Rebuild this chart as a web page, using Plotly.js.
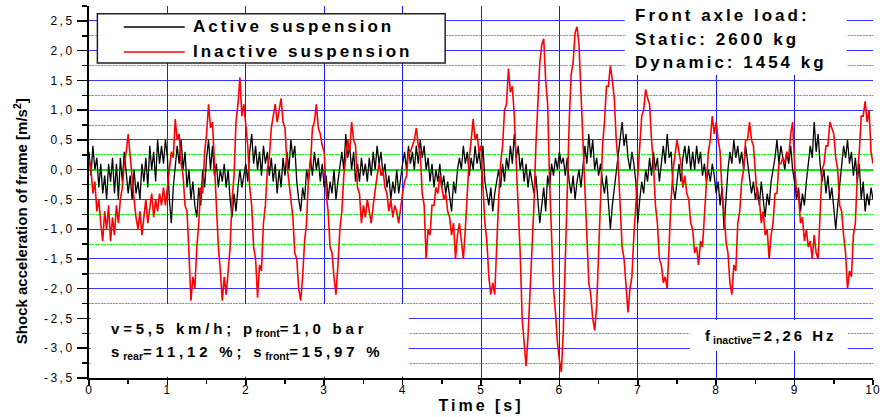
<!DOCTYPE html>
<html>
<head>
<meta charset="utf-8">
<script src="https://cdn.plot.ly/plotly-3.0.1.min.js"></script>
<style>
html,body{margin:0;padding:0;background:#fff;}
#chart{width:884px;height:417px;}
.annotation-text{letter-spacing:3px;}
g.annotation[data-index="6"] .annotation-text, g.annotation[data-index="7"] .annotation-text{letter-spacing:3.8px;}
.annotation-text tspan[style*="70%"]{letter-spacing:0px !important;}
g.annotation[data-index="0"] .annotation-text{letter-spacing:0px;}
.xtitle{letter-spacing:3px;}
.ytick text{letter-spacing:2.5px;}
.xtick text{letter-spacing:1px;}
</style>
</head>
<body>
<div id="chart"></div>
<script>
const FONT = 'Arial, "Liberation Sans", Helvetica, sans-serif';

// sampling interval of both recorded signals [s]
const timeStep = 0.025;

const seriesNames = ['Active suspension', 'Inactive suspension'];

// Active suspension – shock acceleration of frame [m/s^2]
const activeAccel = [
 0.3, -0.1, 0.4, 0.0, 0.2,
 -0.3, 0.1, -0.4, -0.1, -0.5, 0.1, -0.2, 0.2,
 -0.4, 0.1, -0.5, 0.2, -0.2, 0.3, -0.1, -0.4,
 -0.1, -0.5, 0.0, -0.4, -0.2, -0.5, 0.1, -0.2,
 0.2, -0.3, 0.4, 0.0, 0.3, -0.2, 0.5, 0.1,
 0.4, 0.1, 0.5, 0.2, -0.5, -0.9, -0.3, 0.0,
 0.4, 0.1, 0.5, 0.0, 0.3, -0.3, 0.0, -0.5,
 -0.2, -0.6, -0.8, -0.3, -0.6, 0.0, -0.3, 0.2,
 0.5, 0.0, 0.4, -0.1, 0.1, -0.3, 0.0, -0.2,
 0.1, -0.3, 0.0, -0.5, -0.8, -0.4, -0.7, -0.3,
 0.0, -0.3, -0.1, 0.1, -0.2, 0.3, 0.6, 0.1,
 0.4, 0.0, 0.3, -0.1, 0.4, 0.1, 0.3, -0.1,
 0.2, -0.2, 0.1, -0.4, 0.0, -0.3, 0.2, -0.1,
 0.3, 0.0, 0.5, 0.2, 0.4, -0.2, -0.5, -0.7,
 -0.3, -0.5, 0.0, -0.2, 0.2, -0.1, 0.3, 0.0,
 0.2, -0.2, 0.1, -0.3, -0.1, -0.5, -0.2, -0.4,
 0.0, -0.5, -0.2, 0.1, 0.3, 0.0, 0.6, 0.2,
 0.4, 0.0, 0.3, -0.2, 0.1, -0.2, 0.2, -0.1,
 0.1, -0.2, 0.2, -0.1, 0.3, 0.0, 0.4, 0.1,
 0.3, -0.1, 0.1, -0.3, -0.1, -0.5, -0.2, -0.4,
 0.0, -0.4, -0.1, 0.1, 0.3, 0.0, 0.4, 0.1,
 0.3, 0.0, 0.4, 0.1, 0.5, 0.2, 0.4, 0.0,
 0.2, -0.2, 0.1, -0.3, 0.0, -0.2, 0.1, -0.3,
 -0.1, -0.4, -0.2, -0.5, -0.7, -0.2, -0.4, 0.0,
 0.2, 0.0, 0.4, 0.1, 0.3, -0.1, 0.2, 0.0,
 0.4, 0.1, 0.3, 0.0, 0.4, -0.2, -0.4, -0.6,
 -0.3, -0.7, -0.4, -0.2, 0.0, -0.3, 0.1, -0.2,
 0.2, 0.0, 0.4, 0.1, 0.6, 0.2, 0.4, 0.0,
 0.2, -0.2, 0.1, -0.3, 0.0, -0.2, -0.4, -0.1,
 -0.5, -0.9, -0.6, -0.3, -0.7, -0.1, -0.3, 0.1,
 -0.1, 0.2, 0.0, 0.3, 0.1, 0.2, -0.1, 0.2,
 -0.2, -0.4, -0.1, -0.5, -0.2, 0.0, -0.3, 0.1,
 0.4, 0.1, 0.6, 0.2, 0.5, 0.0, 0.2, -0.1,
 0.1, -0.2, -0.4, -0.1, -0.6, -1.0, -0.6, -0.3,
 0.0, 0.3, 0.5, 0.8, 0.4, 0.6, 0.2, 0.0,
 0.3, 0.1, -0.2, -0.9, -0.5, -0.2, -0.4, 0.0,
 -0.2, 0.2, -0.1, 0.3, 0.0, 0.2, -0.2, 0.1,
 0.4, 0.1, 0.6, 0.2, 0.3, -0.3, -0.5, -0.2,
 0.1, -0.2, 0.2, 0.4, 0.1, 0.4, 0.0, 0.3,
 0.0, 0.4, 0.1, 0.3, -0.1, 0.1, -0.2, 0.0,
 -0.2, 0.1, -0.1, -0.4, -0.2, -0.6, -0.3, -1.0,
 -0.4, 0.0, 0.3, 0.1, 0.5, 0.2, 0.4, 0.1,
 0.3, 0.0, 0.4, 0.1, -0.2, -0.4, -0.2, -0.5,
 -0.3, -0.6, -0.2, -0.5, -0.8, -0.4, -0.6, -0.2,
 0.0, 0.2, 0.5, 0.1, 0.4, 0.2, 0.0, 0.3,
 0.1, 0.4, 0.0, -0.2, -0.5, -0.3, -0.7, -0.4,
 -0.6, -0.2, 0.1, 0.4, 0.2, 0.8, 0.3, 0.6,
 0.1, -0.2, 0.0, -0.4, -0.1, -0.5, -0.3, -0.6,
 -1.0, -0.6, -0.3, 0.1, 0.4, 0.2, 0.5, 0.1,
 0.3, -0.1, 0.2, -0.2, 0.1, -0.5, -0.2, -0.7,
 -0.4, -0.6, -0.3, -0.5
];

// Inactive suspension – shock acceleration of frame [m/s^2]
const inactiveAccel = [
 0.2, 0.0, -0.4, -0.2, -0.7, -0.5, -0.9, -1.2, -0.7, -1.0, -0.6, -1.2, -0.8, -1.1, -0.6, -0.9, -0.5, -0.3, 0.1, 0.3,
 0.6, 0.2, -0.1, -0.5, -0.8, -1.0, -0.7, -1.1, -0.8, -0.5, -0.9, -0.6, -0.4, -0.8, -0.5, -0.7, -0.4, -0.6, -0.3, -0.6,
 -0.3, -0.1, 0.3, 0.2, 0.85, 0.5, 0.6, 0.1, -0.1, -0.6, -0.7, -1.4, -2.2, -1.8, -2.0, -1.3, -0.9, -0.3, -0.4, 0.3,
 0.6, 1.1, 0.7, 0.8, 0.1, -0.6, -1.3, -1.7, -2.2, -1.8, -2.1, -1.7, -1.3, -0.5, -0.1, 0.8, 1.1, 1.55, 0.9, 1.1,
 0.7, 0.4, -0.3, -0.6, -1.3, -1.5, -2.15, -1.6, -1.7, -0.9, -0.6, 0.0, 0.2, 0.7, 0.9, 1.1, 0.8, 1.0, 1.2, 0.8,
 0.7, 0.1, -0.2, -0.5, -0.8, -1.4, -1.5, -2.0, -2.2, -1.8, -1.2, -0.9, -0.1, 0.1, 0.7, 0.8, 1.1, 0.7, 0.6, 0.4,
 0.3, -0.4, -0.7, -1.3, -1.4, -1.8, -2.1, -1.6, -1.0, -0.7, -0.1, 0.2, 0.5, 0.3, 0.8, 0.5, 0.4, -0.3, -0.4, -0.9,
 -0.6, -0.8, -0.5, -0.7, -0.9, -0.6, -0.3, -0.1, 0.1, -0.1, 0.0, -0.3, -0.4, -0.7, -0.5, -0.8, -0.6, -0.7, -0.9, -0.6,
 -0.4, -0.2, -0.1, 0.3, 0.3, 0.4, 0.5, 0.7, 0.4, 0.3, -0.4, -0.6, -1.5, -1.0, -1.1, -0.6, -0.6, -0.3, -0.4, -0.1,
 -0.3, -0.5, -0.4, -0.7, -0.8, -1.1, -0.9, -1.5, -1.1, -0.9, -1.2, -1.5, -1.0, -0.4, 0.2, 0.5, 0.85, 0.5, 0.6, 0.3,
 0.4, -0.3, -0.9, -1.2, -1.8, -2.1, -1.9, -2.1, -1.2, -0.5, 0.1, 0.4, 1.0, 1.1, 1.7, 1.3, 1.4, 0.9, 0.1, -0.6,
 -1.4, -2.5, -2.9, -3.3, -2.8, -2.1, -1.3, -0.6, 0.4, 1.0, 1.8, 2.1, 2.2, 1.5, 1.1, -0.2, -1.1, -2.0, -2.4, -2.9,
 -3.2, -3.4, -2.7, -1.4, -0.2, 0.8, 1.6, 1.8, 2.3, 2.4, 2.1, 1.3, 0.4, -0.6, -1.2, -1.9, -2.1, -2.5, -2.7, -2.3,
 -1.4, -0.4, 0.4, 0.8, 1.4, 1.4, 1.75, 1.5, 1.2, 0.5, 0.1, -0.6, -1.3, -1.5, -2.0, -2.4, -2.0, -1.8, -1.1, -0.6,
 0.0, 0.4, 0.9, 1.0, 1.35, 1.2, 1.1, 0.5, 0.1, -0.6, -0.9, -1.5, -1.6, -1.9, -1.8, -2.0, -1.2, -0.5, 0.0, 0.3,
 0.5, 0.3, 0.1, -0.3, -0.1, -0.4, -0.5, -0.9, -1.0, -1.4, -1.3, -1.6, -1.2, -1.3, -0.7, -0.3, 0.3, 0.5, 0.9, 0.6,
 0.8, 0.5, 0.3, -0.4, -0.7, -1.2, -1.4, -1.9, -2.1, -1.6, -1.7, -0.9, -0.7, -0.2, 0.0, 0.5, 0.5, 0.8, 0.5, 0.4,
 -0.1, -0.5, -0.5, -0.9, -0.7, -1.1, -1.0, -1.5, -1.1, -0.9, -0.4, -0.4, 0.1, 0.1, 0.2, 0.1, 0.3, 0.2, 0.6, 0.8,
 0.1, -0.4, -0.4, -0.9, -0.8, -1.2, -1.0, -1.3, -1.2, -1.5, -1.1, -1.4, -1.5, -0.7, 0.0, 0.1, 0.4, 0.4, 0.8, 0.7,
 0.6, 0.2, 0.0, -0.6, -0.7, -1.1, -1.4, -2.0, -1.7, -1.8, -1.1, -0.9, -0.1, 0.3, 0.9, 0.9, 1.15, 0.8, 1.0, 0.3,
 0.1
];

const xTickVals = [0, 1, 2, 3, 4, 5, 6, 7, 8, 9, 10];
const xTickText = ['0', '1', '2', '3', '4', '5', '6', '7', '8', '9', '10'];
const yTickVals = [-3.5, -3.0, -2.5, -2.0, -1.5, -1.0, -0.5, 0.0, 0.5, 1.0, 1.5, 2.0, 2.5];
const yTickText = ['-3,5', '-3,0', '-2,5', '-2,0', '-1,5', '-1,0', '-0,5', '0,0', '0,5', '1,0', '1,5', '2,0', '2,5'];

const yTitle = 'Shock acceleration of frame [m/s<sup>2</sup>]';
const xTitle = 'Time [s]';
const loadLines = ['Front axle load:', 'Static: 2600 kg', 'Dynamic: 1454 kg'];
const condLines = ['v=5,5 km/h; p<sub>front</sub>=1,0 bar', 's<sub>rear</sub>=11,12 %; s<sub>front</sub>=15,97 %'];
const freqText = 'f<sub>inactive</sub>=2,26 Hz';

const timeActive = activeAccel.map((_, i) => +(i * timeStep).toFixed(3));
const timeInactive = inactiveAccel.map((_, i) => +(i * timeStep).toFixed(3));

const traces = [
  {x: timeActive, y: activeAccel, type: 'scatter', mode: 'lines', name: seriesNames[0],
   line: {color: '#000000', width: 1.3}, hoverinfo: 'skip'},
  {x: timeInactive, y: inactiveAccel, type: 'scatter', mode: 'lines', name: seriesNames[1],
   line: {color: '#ff0000', width: 1.6}, hoverinfo: 'skip'}
];

const whiteBox = (x0, x1, y0, y1, border) => ({
  type: 'rect', xref: 'x', yref: 'y', x0, x1, y0, y1, layer: 'between',
  fillcolor: '#ffffff',
  line: border ? {color: '#222222', width: 1.5} : {width: 0}
});

const shapes = [
  whiteBox(0.107, 4.543, 1.794, 2.618, true),      // legend frame
  whiteBox(6.833, 9.665, 1.592, 2.75, false),      // axle load box
  whiteBox(0.02, 4.078, -3.48, -2.256, false),     // conditions box
  whiteBox(7.662, 9.677, -3.046, -2.525, false),   // frequency box
  {type: 'line', xref: 'x', yref: 'y', x0: 0.443, x1: 1.221, y0: 2.399, y1: 2.399, layer: 'between',
   line: {color: '#000000', width: 1.5}},
  {type: 'line', xref: 'x', yref: 'y', x0: 0.443, x1: 1.221, y0: 1.979, y1: 1.979, layer: 'between',
   line: {color: '#ff0000', width: 1.5}}
];

const txt = (text, x, y, size) => ({
  text, x, y, xref: 'x', yref: 'y', xanchor: 'left', yanchor: 'middle', showarrow: false,
  align: 'left', borderpad: 0, borderwidth: 0,
  font: {family: FONT, size, color: '#000', weight: 'bold'}
});

const annotations = [
  {text: yTitle, textangle: -90, xref: 'paper', x: -0.087, yref: 'y', y: -0.86,
   xanchor: 'center', yanchor: 'middle', showarrow: false, borderpad: 0, borderwidth: 0,
   font: {family: FONT, size: 15, color: '#000', weight: 'bold'}},
  txt(seriesNames[0], 1.323, 2.399, 17),
  txt(seriesNames[1], 1.323, 1.979, 17),
  txt(loadLines[0], 6.961, 2.584, 17),
  txt(loadLines[1], 6.961, 2.181, 17),
  txt(loadLines[2], 6.961, 1.794, 17),
  txt(condLines[0], 0.277, -2.69, 15),
  txt(condLines[1], 0.277, -3.065, 15),
  txt(freqText, 7.853, -2.81, 15)
];

const layout = {
  width: 884, height: 417,
  margin: {l: 89, r: 11, t: 6, b: 39, pad: 0},
  paper_bgcolor: '#ffffff', plot_bgcolor: '#ffffff',
  showlegend: false,
  font: {family: FONT, color: '#000'},
  xaxis: {
    range: [0, 10], tickmode: 'array', tickvals: xTickVals, ticktext: xTickText,
    ticks: 'outside', ticklen: 5, tickwidth: 1.5, tickcolor: '#000', ticklabelstandoff: -5,
    showline: true, linecolor: '#000', linewidth: 2,
    showgrid: true, gridcolor: '#1a1aff', gridwidth: 1, zeroline: false,
    minor: {tickmode: 'linear', tick0: 0, dtick: 0.5, ticks: 'outside', ticklen: 4,
            tickwidth: 1.5, tickcolor: '#000', showgrid: false},
    tickfont: {family: FONT, size: 12, color: '#000'},
    title: {text: xTitle, font: {family: FONT, size: 16, color: '#000', weight: 'bold'}, standoff: 3},
    fixedrange: true
  },
  yaxis: {
    range: [-3.5, 2.75], tickmode: 'array', tickvals: yTickVals, ticktext: yTickText,
    ticks: 'outside', ticklen: 10, tickwidth: 1.5, tickcolor: '#000',
    showline: true, linecolor: '#000', linewidth: 2,
    showgrid: true, gridcolor: '#3535ff', gridwidth: 1,
    zeroline: true, zerolinecolor: '#00ee00', zerolinewidth: 2,
    minor: {tickmode: 'linear', tick0: -3.5, dtick: 0.25, ticks: 'outside', ticklen: 5,
            tickwidth: 1.5, tickcolor: '#000', showgrid: true, gridcolor: '#00ff00',
            griddash: '2px,1px', gridwidth: 1},
    tickfont: {family: FONT, size: 12, color: '#000'},
    fixedrange: true
  },
  shapes, annotations
};

Plotly.newPlot('chart', traces, layout, {displayModeBar: false, staticPlot: true});
</script>
</body>
</html>
